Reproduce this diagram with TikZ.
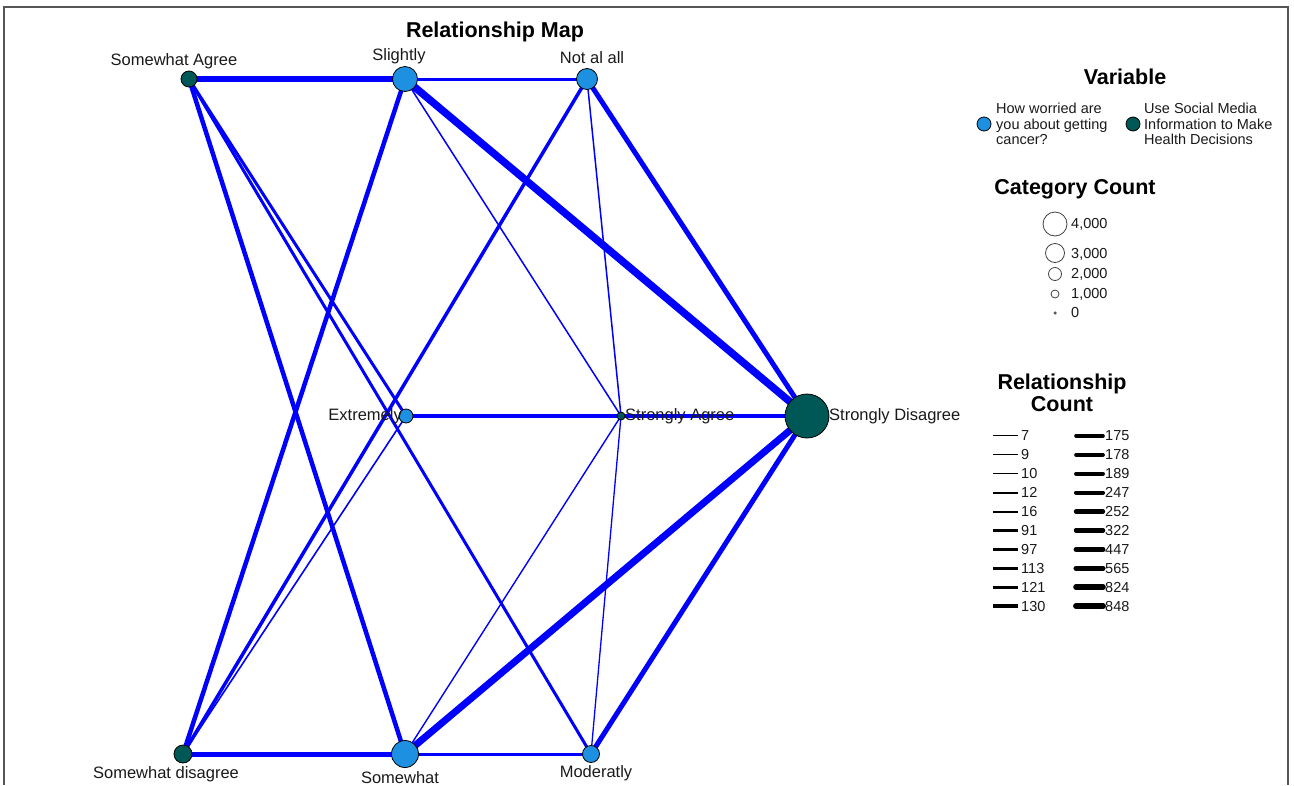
\documentclass[tikz,border=0pt]{standalone}
\usepackage{fontspec}
\setmainfont{Liberation Sans}
\usetikzlibrary{positioning,backgrounds}
\definecolor{worryblue}{RGB}{30,144,226}
\definecolor{mediateal}{RGB}{0,88,86}
\definecolor{framegray}{RGB}{85,85,85}

\tikzset{
  worry/.style={circle, draw=black, line width=0.8pt, fill=worryblue, inner sep=0pt, minimum size=#1},
  media/.style={circle, draw=black, line width=0.8pt, fill=mediateal, inner sep=0pt, minimum size=#1},
  lbl/.style={font=\fontsize{16.5}{18}\selectfont, text=black!90, inner sep=0pt},
  rel/.style={draw=blue, line width=#1},
  keytitle/.style={font=\bfseries\fontsize{21.5}{23}\selectfont, align=center, inner sep=0pt},
  keytext/.style={font=\fontsize{14.5}{15.5}\selectfont, text=black!90, align=left, inner sep=0pt, anchor=west},
  cntdot/.style={circle, draw=black!75, line width=0.8pt, inner sep=0pt, minimum size=#1},
}

\begin{document}
\begin{tikzpicture}[x=1pt,y=1pt,yscale=-1]
\useasboundingbox (0,0) rectangle (1294,785);

% frame
\draw [framegray, line width=2pt] (4,785) -- (4,7) -- (1288,7) -- (1288,785);

\node [keytitle] (maptitle) at (495,32) {Relationship Map};

% category nodes
\node [media=16pt] (sagree) at (189,79) {};
\node [worry=25pt] (slightly) at (405,79) {};
\node [worry=21pt] (notatall) at (587,79) {};
\node [worry=14pt] (extremely) at (406,416) {};
\node [media=8pt] (sagreestrong) at (621,416) {};
\node [media=44pt] (sdisagreestrong) at (807,416) {};
\node [media=18pt] (sdisagree) at (183,754) {};
\node [worry=27pt] (somewhat) at (405,754) {};
\node [worry=17pt] (moderatly) at (591,754) {};

% category labels
\node [lbl] (sagreelbl) at (174,61) {Somewhat Agree};
\node [lbl] (slightlylbl) at (399,56) {Slightly};
\node [lbl] (notatalllbl) at (592,58) {Not al all};
\node [lbl, anchor=east] (extremelylbl) at (402,416) {Extremely};
\node [lbl, anchor=west] (sagreestronglbl) at (625,416) {Strongly Agree};
\node [lbl, anchor=west] (sdisagreestronglbl) at (829,416) {Strongly Disagree};
\node [lbl] (sdisagreelbl) at (166,774) {Somewhat disagree};
\node [lbl] (somewhatlbl) at (400,778) {Somewhat};
\node [lbl] (moderatlylbl) at (596,773) {Moderatly};

% relationships
\begin{scope}[on background layer]
\draw [rel=5.5pt] (slightly.center) -- (sagree.center);
\draw [rel=7.5pt] (slightly.center) -- (sdisagreestrong.center);
\draw [rel=4.5pt] (slightly.center) -- (sdisagree.center);
\draw [rel=1.5pt] (slightly.center) -- (sagreestrong.center);

\draw [rel=3pt] (notatall.center) -- (sagree.center);
\draw [rel=5pt] (notatall.center) -- (sdisagreestrong.center);
\draw [rel=3.5pt] (notatall.center) -- (sdisagree.center);
\draw [rel=1.5pt] (notatall.center) -- (sagreestrong.center);

\draw [rel=3pt] (extremely.center) -- (sagree.center);
\draw [rel=4.5pt] (extremely.center) -- (sdisagreestrong.center);
\draw [rel=1.6pt] (extremely.center) -- (sdisagree.center);
\draw [rel=1.3pt] (extremely.center) -- (sagreestrong.center);

\draw [rel=4.5pt] (somewhat.center) -- (sagree.center);
\draw [rel=7pt] (somewhat.center) -- (sdisagreestrong.center);
\draw [rel=5pt] (somewhat.center) -- (sdisagree.center);
\draw [rel=1.4pt] (somewhat.center) -- (sagreestrong.center);

\draw [rel=3pt] (moderatly.center) -- (sagree.center);
\draw [rel=5pt] (moderatly.center) -- (sdisagreestrong.center);
\draw [rel=3pt] (moderatly.center) -- (sdisagree.center);
\draw [rel=1.3pt] (moderatly.center) -- (sagreestrong.center);
\end{scope}

% legend: variable
\node [keytitle] (vartitle) at (1125,77) {Variable};
\node [worry=14pt] (varworry) at (984,124) {};
\node [keytext, anchor=west] (varworrytxt) at (996,124) {How worried are\\you about getting\\cancer?};
\node [media=14pt] (varmedia) at (1133,124) {};
\node [keytext, anchor=west] (varmediatxt) at (1144,124) {Use Social Media\\Information to Make\\Health Decisions};

% legend: category count
\node [keytitle] (cnttitle) at (1075,189) {Category Count};
\node [cntdot=24pt] (cnt4) at (1055,224) {};
\node [cntdot=19pt] (cnt3) at (1055,253) {};
\node [cntdot=13pt] (cnt2) at (1055,274) {};
\node [cntdot=8pt] (cnt1) at (1055,294) {};
\node [circle, fill=black!65, inner sep=0pt, minimum size=3.5pt] (cnt0) at (1055,313) {};
\node [keytext] (cnt4lbl) at (1071,224) {4,000};
\node [keytext] (cnt3lbl) at (1071,254) {3,000};
\node [keytext] (cnt2lbl) at (1071,274) {2,000};
\node [keytext] (cnt1lbl) at (1071,294) {1,000};
\node [keytext] (cnt0lbl) at (1071,313) {0};

% legend: relationship count
\node [keytitle] (reltitle) at (1062,393) {Relationship\\[-1pt]Count};
\foreach \v/\w [count=\i] in {7/1.0,9/1.2,10/1.5,12/1.8,16/2.0,91/2.3,97/2.6,113/2.9,121/3.1,130/3.4}
{
  \draw [line width=\w pt] (993,417+\i*18.9) -- (1018,417+\i*18.9);
  \node [keytext] (rl\i) at (1021,417+\i*18.9) {\v};
}
\foreach \v/\w [count=\i] in {175/3.6,178/3.7,189/3.9,247/4.1,252/4.3,322/4.5,447/4.8,565/5.1,824/5.6,848/5.9}
{
  \draw [line width=\w pt, line cap=round] (1076,417+\i*18.9) -- (1103,417+\i*18.9);
  \node [keytext] (rr\i) at (1105,417+\i*18.9) {\v};
}
\end{tikzpicture}
\end{document}
